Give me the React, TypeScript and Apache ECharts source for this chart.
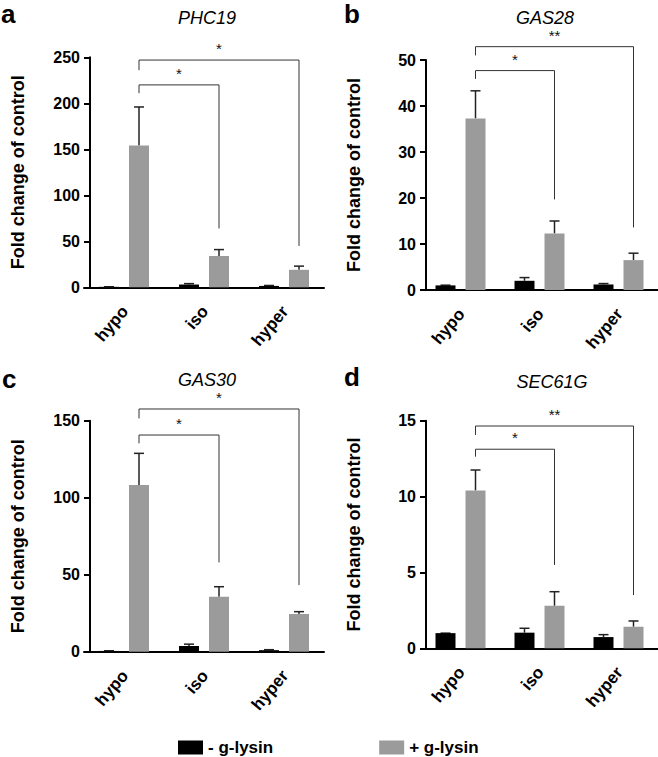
import React, { useEffect, useRef } from "react";
import * as echarts from "echarts";

const CATEGORIES = ["hypo", "iso", "hyper"];
const SERIES_NAMES = ["- g-lysin", "+ g-lysin"];

// Panel a: PHC19
const PHC19_MINUS = [0.5, 3.0, 1.5];
const PHC19_MINUS_UPPER = [0.6, 4.0, 2.0];
const PHC19_PLUS = [154, 34, 19];
const PHC19_PLUS_UPPER = [196, 41, 23];
const PHC19_BRACKETS = [[0, 1, 220, 211, 64], [0, 2, 247, 236, 45]];
const PHC19_STARS = ["*", "*"];

// Panel b: GAS28
const GAS28_MINUS = [1.0, 2.0, 1.2];
const GAS28_MINUS_UPPER = [1.05, 2.7, 1.4];
const GAS28_PLUS = [37.3, 12.3, 6.5];
const GAS28_PLUS_UPPER = [43.3, 15.0, 8.0];
const GAS28_BRACKETS = [[0, 1, 47.7, 45.9, 19.7], [0, 2, 52.9, 51.0, 13.6]];
const GAS28_STARS = ["*", "**"];

// Panel c: GAS30
const GAS30_MINUS = [0.5, 3.7, 1.0];
const GAS30_MINUS_UPPER = [0.6, 4.9, 1.3];
const GAS30_PLUS = [108.2, 35.7, 24.5];
const GAS30_PLUS_UPPER = [128.8, 42.2, 26.0];
const GAS30_BRACKETS = [[0, 1, 140.7, 135.3, 58], [0, 2, 157.6, 151.5, 43.3]];
const GAS30_STARS = ["*", "*"];

// Panel d: SEC61G
const SEC61G_MINUS = [1.0, 1.03, 0.74];
const SEC61G_MINUS_UPPER = [1.0, 1.32, 0.9];
const SEC61G_PLUS = [10.4, 2.8, 1.42];
const SEC61G_PLUS_UPPER = [11.75, 3.73, 1.8];
const SEC61G_BRACKETS = [[0, 1, 13.12, 12.63, 5.49], [0, 2, 14.65, 14.06, 3.51]];
const SEC61G_STARS = ["*", "**"];

const Y_MAX = [250, 50, 150, 15];
const Y_INTERVAL = [50, 10, 50, 5];
const GENES = ["PHC19", "GAS28", "GAS30", "SEC61G"];
const LETTERS = ["a", "b", "c", "d"];
const Y_NAME = "Fold change of control";

const FONT = "'Liberation Sans', Arial, Helvetica, sans-serif";
const BAR_W = 20;
const BAR_GAP = 10;
const OFF = (BAR_W + BAR_GAP) / 2;
const LABEL_ROT = 0.87;

const panels = [
  { minus: PHC19_MINUS, minusUp: PHC19_MINUS_UPPER, plus: PHC19_PLUS, plusUp: PHC19_PLUS_UPPER, brackets: PHC19_BRACKETS, stars: PHC19_STARS },
  { minus: GAS28_MINUS, minusUp: GAS28_MINUS_UPPER, plus: GAS28_PLUS, plusUp: GAS28_PLUS_UPPER, brackets: GAS28_BRACKETS, stars: GAS28_STARS },
  { minus: GAS30_MINUS, minusUp: GAS30_MINUS_UPPER, plus: GAS30_PLUS, plusUp: GAS30_PLUS_UPPER, brackets: GAS30_BRACKETS, stars: GAS30_STARS },
  { minus: SEC61G_MINUS, minusUp: SEC61G_MINUS_UPPER, plus: SEC61G_PLUS, plusUp: SEC61G_PLUS_UPPER, brackets: SEC61G_BRACKETS, stars: SEC61G_STARS },
];

const grids = [
  { left: 84, top: 57.3, width: 240, height: 230 },
  { left: 421, top: 60, width: 237, height: 230 },
  { left: 84, top: 420.7, width: 240, height: 231 },
  { left: 421, top: 420.7, width: 237, height: 227.6 },
];
const yOffsets = [-6, -5, -6, -5];
const titlePos = [
  { x: 207, y: 9 },
  { x: 545, y: 9 },
  { x: 207, y: 371 },
  { x: 552, y: 373 },
];
const letterPos = [
  { x: 1, y: 1 },
  { x: 344, y: 1 },
  { x: 2, y: 366 },
  { x: 344, y: 364 },
];

export default function App() {
  const ref = useRef<HTMLDivElement>(null);
  useEffect(() => {
    if (!ref.current) return;
    const chart = echarts.init(ref.current, undefined, { renderer: "svg" });

    const xAxes: any[] = [];
    const yAxes: any[] = [];
    const series: any[] = [];
    const titles: any[] = [];

    panels.forEach((p, i) => {
      xAxes.push({
        type: "category",
        gridIndex: i,
        data: CATEGORIES,
        axisLine: { lineStyle: { color: "#000", width: 2 } },
        axisTick: { alignWithLabel: true, length: 6, lineStyle: { color: "#000", width: 2 } },
        axisLabel: { show: false },
      });
      yAxes.push({
        type: "value",
        gridIndex: i,
        min: 0,
        max: Y_MAX[i],
        interval: Y_INTERVAL[i],
        offset: yOffsets[i],
        name: Y_NAME,
        nameLocation: "middle",
        nameGap: 63,
        nameTextStyle: { color: "#000", fontWeight: "bold", fontSize: 18, fontFamily: FONT },
        splitLine: { show: false },
        axisLine: { show: true, lineStyle: { color: "#000", width: 2 } },
        axisTick: { show: true, length: 6, lineStyle: { color: "#000", width: 2 } },
        axisLabel: { margin: 10, color: "#000", fontWeight: "bold", fontSize: 16, fontFamily: FONT },
      });
      series.push({
        type: "bar",
        name: SERIES_NAMES[0],
        xAxisIndex: i,
        yAxisIndex: i,
        data: p.minus,
        barWidth: BAR_W,
        barGap: "50%",
        itemStyle: { color: "#000" },
      });
      series.push({
        type: "bar",
        name: SERIES_NAMES[1],
        xAxisIndex: i,
        yAxisIndex: i,
        data: p.plus,
        barWidth: BAR_W,
        barGap: "50%",
        itemStyle: { color: "#9b9b9b" },
      });
      const errData: number[][] = [];
      CATEGORIES.forEach((_, c) => {
        errData.push([c, p.minus[c], p.minusUp[c], 0]);
        errData.push([c, p.plus[c], p.plusUp[c], 1]);
      });
      series.push({
        type: "custom",
        xAxisIndex: i,
        yAxisIndex: i,
        data: errData,
        encode: { x: 0, y: [1, 2] },
        clip: false,
        silent: true,
        itemStyle: { color: "#222" },
        renderItem: (params: any, api: any) => {
          const cat = api.value(0);
          const mean = api.value(1);
          const up = api.value(2);
          const side = api.value(3);
          const p0 = api.coord([cat, mean]);
          const p1 = api.coord([cat, up]);
          const x = p0[0] + (side ? OFF : -OFF);
          const st = { stroke: "#222", lineWidth: 1.5, fill: "none" };
          return {
            type: "group",
            children: [
              { type: "line", shape: { x1: x, y1: p0[1], x2: x, y2: p1[1] }, style: st },
              { type: "line", shape: { x1: x - 5, y1: p1[1], x2: x + 5, y2: p1[1] }, style: st },
            ],
          };
        },
      });
      const stars = p.stars;
      series.push({
        type: "custom",
        xAxisIndex: i,
        yAxisIndex: i,
        data: p.brackets,
        encode: { x: [0, 1], y: [2, 3, 4] },
        clip: false,
        silent: true,
        itemStyle: { color: "#000" },
        renderItem: (params: any, api: any) => {
          const s = api.value(0);
          const e = api.value(1);
          const y = api.value(2);
          const yl = api.value(3);
          const yr = api.value(4);
          const a = api.coord([s, y]);
          const b = api.coord([e, y]);
          const x1 = a[0] + OFF;
          const x2 = b[0] + OFF;
          const py = a[1];
          const pl = api.coord([s, yl])[1];
          const pr = api.coord([e, yr])[1];
          return {
            type: "group",
            children: [
              {
                type: "polyline",
                shape: { points: [[x1, pl], [x1, py], [x2, py], [x2, pr]] },
                style: { stroke: "#333", lineWidth: 1, fill: "none" },
              },
              {
                type: "text",
                x: (x1 + x2) / 2,
                y: py - 19,
                style: {
                  text: stars[params.dataIndex],
                  fill: "#111",
                  fontSize: 15,
                  fontFamily: FONT,
                  align: "center",
                  verticalAlign: "top",
                },
              },
            ],
          };
        },
      });
      series.push({
        type: "custom",
        xAxisIndex: i,
        yAxisIndex: i,
        data: CATEGORIES.map((_, c) => [c, 0]),
        encode: { x: 0, y: 1 },
        clip: false,
        silent: true,
        itemStyle: { color: "#000" },
        renderItem: (params: any, api: any) => {
          const pt = api.coord([api.value(0), api.value(1)]);
          return {
            type: "text",
            x: pt[0] + 1,
            y: pt[1] + 21,
            rotation: LABEL_ROT,
            style: {
              text: CATEGORIES[params.dataIndex],
              fill: "#000",
              fontSize: 17,
              fontWeight: "bold",
              fontFamily: FONT,
              align: "right",
              verticalAlign: "middle",
            },
          };
        },
      });
      titles.push({
        text: GENES[i],
        left: titlePos[i].x,
        top: titlePos[i].y,
        textAlign: "center",
        padding: 0,
        textStyle: { color: "#000", fontStyle: "italic", fontWeight: "normal", fontSize: 18, fontFamily: FONT },
      });
      titles.push({
        text: LETTERS[i],
        left: letterPos[i].x,
        top: letterPos[i].y,
        padding: 0,
        textStyle: { color: "#000", fontWeight: "bold", fontSize: 26, fontFamily: FONT },
      });
    });

    chart.setOption({
      animation: false,
      backgroundColor: "#fff",
      title: titles,
      legend: {
        data: SERIES_NAMES,
        left: 178,
        top: 739,
        padding: 0,
        icon: "rect",
        itemWidth: 25,
        itemHeight: 14,
        itemGap: 106,
        selectedMode: false,
        textStyle: { color: "#000", fontWeight: "bold", fontSize: 17, fontFamily: FONT },
      },
      grid: grids,
      xAxis: xAxes,
      yAxis: yAxes,
      series,
    });

    return () => chart.dispose();
  }, []);

  return (
    <div
      ref={ref}
      style={{ position: "absolute", left: 0, top: 0, width: 658, height: 757, background: "#fff" }}
    />
  );
}
